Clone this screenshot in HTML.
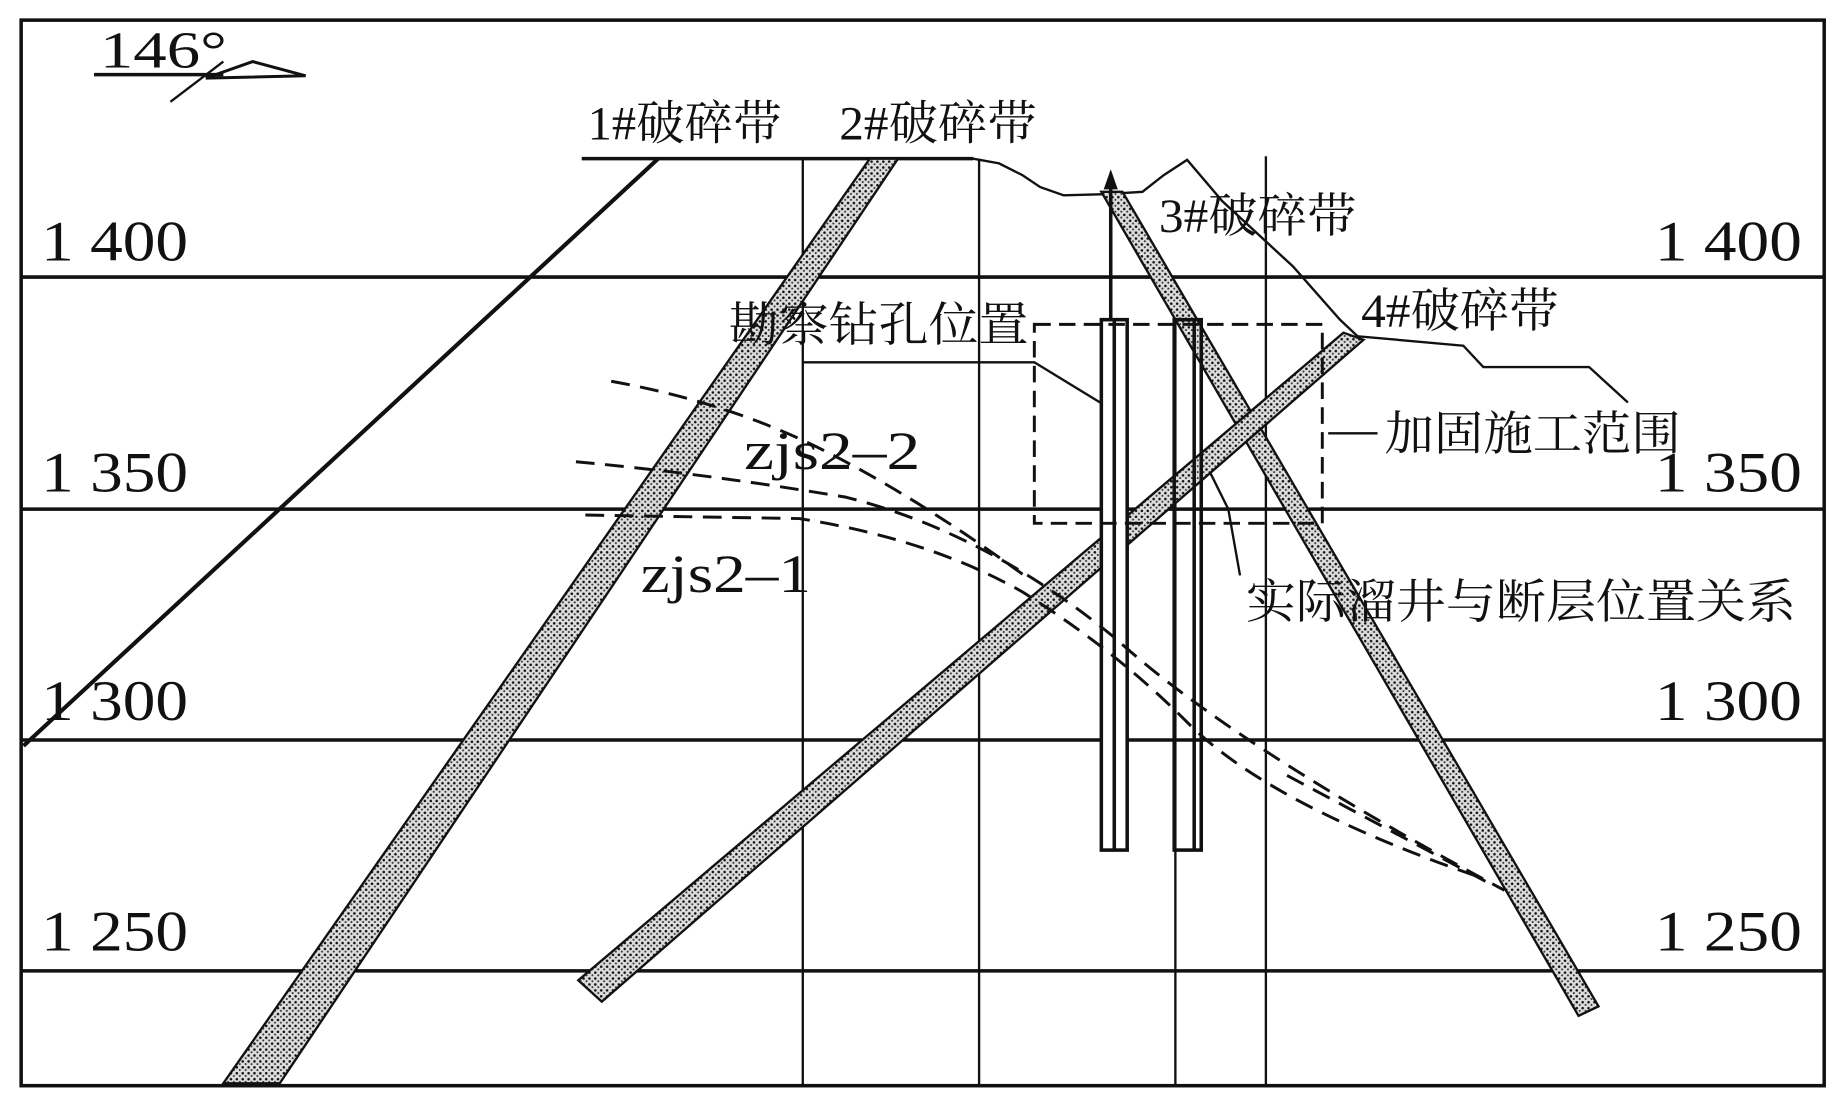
<!DOCTYPE html>
<html><head><meta charset="utf-8"><style>
html,body{margin:0;padding:0;background:#fff;}
svg{display:block}
text{font-family:"Liberation Serif","Noto Serif CJK SC",serif;fill:#111}
</style></head><body>
<svg width="1843" height="1107" viewBox="0 0 1568 935" preserveAspectRatio="none" xmlns="http://www.w3.org/2000/svg">
<defs>
<pattern id="dots" width="5" height="5" patternUnits="userSpaceOnUse">
<rect width="5" height="5" fill="#ddd"/>
<circle cx="1.5" cy="1.5" r="1.1" fill="#111"/><circle cx="4" cy="3.8" r="0.9" fill="#333"/>
</pattern>
</defs>
<rect x="18" y="17" width="1534" height="900" fill="none" stroke="#111" stroke-width="3"/>
<g stroke="#111" stroke-width="3">
<line x1="18" y1="234" x2="1552" y2="234"/>
<line x1="18" y1="430" x2="1552" y2="430"/>
<line x1="18" y1="625" x2="1552" y2="625"/>
<line x1="18" y1="820" x2="1552" y2="820"/>
</g>
<g stroke="#111" stroke-width="2">
<line x1="683" y1="134" x2="683" y2="917"/>
<line x1="833" y1="134" x2="833" y2="917"/>
<line x1="1000" y1="270" x2="1000" y2="917"/>
<line x1="1077" y1="132" x2="1077" y2="917"/>
</g>
<polyline fill="none" stroke="#111" stroke-width="2" points="495,134 828,134 850,138 870,148 885,158 905,165 940,164 972,162 990,148 1010,135 1040,170 1100,225 1140,270 1155,284 1245,292 1262,310 1352,310 1385,340"/>
<line x1="495" y1="134" x2="828" y2="134" stroke="#111" stroke-width="3"/>
<line x1="560" y1="134" x2="20" y2="630" stroke="#111" stroke-width="3.5"/>
<polygon points="740,134 764,134 238,915 190,915" fill="url(#dots)" stroke="#111" stroke-width="2"/>
<polygon points="937,162 955,162 1360,850 1343,858" fill="url(#dots)" stroke="#111" stroke-width="2"/>
<polygon points="1143,281 1160,287 512,846 492,828" fill="url(#dots)" stroke="#111" stroke-width="2"/>
<line x1="945" y1="150" x2="945" y2="272" stroke="#111" stroke-width="3"/>
<polygon points="945,143 939,160 951,160" fill="#111"/>
<rect x="937" y="270" width="22" height="448" fill="#fff" stroke="#111" stroke-width="3"/>
<line x1="948" y1="270" x2="948" y2="718" stroke="#111" stroke-width="3"/>
<rect x="999" y="270" width="23" height="448" fill="none" stroke="#111" stroke-width="3"/>
<line x1="1016" y1="270" x2="1016" y2="718" stroke="#111" stroke-width="3"/>
<rect x="880" y="274" width="245" height="168" fill="none" stroke="#111" stroke-width="2.5" stroke-dasharray="14,7"/>
<g fill="none" stroke="#111" stroke-width="2.5" stroke-dasharray="16,9">
<path d="M520,322 Q620,340 700,380 Q780,420 870,485"/>
<path d="M490,390 Q600,400 720,420 Q840,450 950,540 Q1050,630 1280,752"/>
<path d="M498,435 L680,438 Q790,455 870,500 Q950,550 1010,610 Q1080,680 1262,742"/>
<path d="M1095,655 Q1180,700 1265,745"/>
</g>
<g fill="none" stroke="#111" stroke-width="2">
<polyline points="683,306 880,306 936,340"/>
<line x1="1130" y1="366" x2="1172" y2="366"/>
<polyline points="1030,400 1045,430 1055,486"/>
</g>
<text x="85" y="57" font-size="44" textLength="108" lengthAdjust="spacingAndGlyphs">146°</text>
<line x1="80" y1="63" x2="190" y2="63" stroke="#111" stroke-width="3"/>
<line x1="145" y1="86" x2="190" y2="52" stroke="#111" stroke-width="2"/>
<polyline points="175,66 215,52 260,64 175,66" fill="none" stroke="#111" stroke-width="2.5"/>
<g font-size="48">
<text x="35" y="220" textLength="125" lengthAdjust="spacingAndGlyphs">1 400</text><text x="1408" y="220" textLength="125" lengthAdjust="spacingAndGlyphs">1 400</text>
<text x="35" y="415" textLength="125" lengthAdjust="spacingAndGlyphs">1 350</text><text x="1408" y="415" textLength="125" lengthAdjust="spacingAndGlyphs">1 350</text>
<text x="35" y="608" textLength="125" lengthAdjust="spacingAndGlyphs">1 300</text><text x="1408" y="608" textLength="125" lengthAdjust="spacingAndGlyphs">1 300</text>
<text x="35" y="803" textLength="125" lengthAdjust="spacingAndGlyphs">1 250</text><text x="1408" y="803" textLength="125" lengthAdjust="spacingAndGlyphs">1 250</text>
</g>
<g font-size="40">
<text x="500" y="118" textLength="165" lengthAdjust="spacingAndGlyphs">1#破碎带</text>
<text x="714" y="118" textLength="168" lengthAdjust="spacingAndGlyphs">2#破碎带</text>
<text x="986" y="196" textLength="168" lengthAdjust="spacingAndGlyphs">3#破碎带</text>
<text x="1158" y="276" textLength="168" lengthAdjust="spacingAndGlyphs">4#破碎带</text>
<text x="620" y="288" textLength="255" lengthAdjust="spacingAndGlyphs">勘察钻孔位置</text>
<text x="1178" y="380" textLength="252" lengthAdjust="spacingAndGlyphs">加固施工范围</text>
<text x="1060" y="522" textLength="468" lengthAdjust="spacingAndGlyphs">实际溜井与断层位置关系</text>
<text x="633" y="396" font-size="46" textLength="150" lengthAdjust="spacingAndGlyphs">zjs2–2</text>
<text x="545" y="500" font-size="46" textLength="145" lengthAdjust="spacingAndGlyphs">zjs2–1</text>
</g>
</svg>
</body></html>
